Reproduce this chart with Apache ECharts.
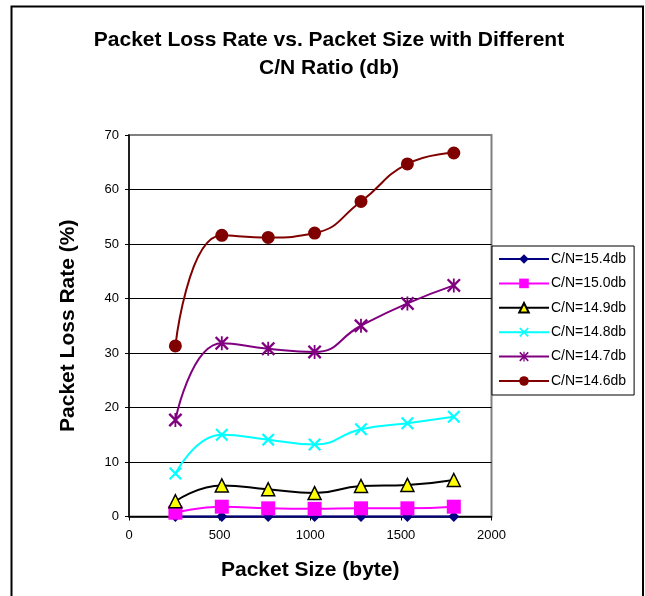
<!DOCTYPE html>
<html>
<head>
<meta charset="utf-8">
<script src="https://cdn.jsdelivr.net/npm/echarts@6/dist/echarts.min.js"></script>
<style>
  html, body { margin: 0; padding: 0; background: #fff; }
  #chart { width: 645px; height: 596px; }
</style>
</head>
<body>
<div id="chart"></div>
<script>
// Packet sizes (bytes) at which loss was measured
const packetSizes = [256, 512, 768, 1024, 1280, 1536, 1792];

// Packet loss rate (%) per C/N ratio
const cn154 = [0, 0, 0, 0, 0, 0, 0];
const cn150 = [0.7, 1.8, 1.5, 1.4, 1.5, 1.5, 1.8];
const cn149 = [2.8, 5.7, 5.0, 4.3, 5.6, 5.8, 6.7];
const cn148 = [7.9, 15.0, 14.1, 13.2, 16.0, 17.1, 18.3];
const cn147 = [17.7, 31.8, 30.8, 30.2, 35.0, 39.1, 42.4];
const cn146 = [31.3, 51.6, 51.2, 52.0, 57.8, 64.7, 66.7];

const seriesNames = ['C/N=15.4db', 'C/N=15.0db', 'C/N=14.9db', 'C/N=14.8db', 'C/N=14.7db', 'C/N=14.6db'];

const xTicks = { min: 0, max: 2000, interval: 500 };
const yTicks = { min: 0, max: 70, interval: 10 };

// Marker shapes: a cross and an asterisk (cross plus vertical bar)
const crossPath = 'path://M0,1.2 L1.2,0 L5,3.8 L8.8,0 L10,1.2 L6.2,5 L10,8.8 L8.8,10 L5,6.2 L1.2,10 L0,8.8 L3.8,5 Z';
const starPath = 'path://M0,1.2 L1.2,0 L5,3.8 L8.8,0 L10,1.2 L6.2,5 L10,8.8 L8.8,10 L5,6.2 L1.2,10 L0,8.8 L3.8,5 Z M4.35,0 L5.65,0 L5.65,10 L4.35,10 Z';

const FONT = '"Liberation Sans", Arial, sans-serif';

function pairs(vals) {
  return packetSizes.map((x, i) => [x, vals[i]]);
}

function lineSeries(name, vals, color, symbol, size, extraItem) {
  return {
    name: name,
    type: 'line',
    data: pairs(vals),
    smooth: 0.5,
    symbol: symbol,
    symbolSize: size,
    lineStyle: { color: color, width: 2 },
    itemStyle: Object.assign({ color: color }, extraItem || {}),
    emphasis: { disabled: true },
    clip: false
  };
}

const plainNumber = v => String(v);

const chart = echarts.init(document.getElementById('chart'), null, { renderer: 'canvas' });

chart.setOption({
  animation: false,
  backgroundColor: '#ffffff',
  textStyle: { fontFamily: FONT },
  title: {
    text: 'Packet Loss Rate vs. Packet Size with Different\nC/N Ratio (db)',
    left: 324,
    top: 21,
    textAlign: 'center',
    textStyle: {
      fontFamily: FONT,
      fontSize: 21,
      fontWeight: 'bold',
      color: '#000',
      lineHeight: 28
    }
  },
  graphic: [
    {
      type: 'rect',
      shape: { x: 11.5, y: 6.5, width: 631.5, height: 600 },
      style: { fill: 'none', stroke: '#000', lineWidth: 2 },
      silent: true,
      z: 100
    }
  ],
  grid: {
    left: 129,
    right: 153.5,
    top: 135,
    bottom: 79.5,
    show: true,
    borderColor: '#808080',
    borderWidth: 2,
    backgroundColor: 'transparent'
  },
  legend: {
    orient: 'vertical',
    left: 492,
    top: 246,
    padding: [6, 8, 7, 6],
    itemWidth: 50,
    itemHeight: 12,
    itemGap: 10.4,
    borderColor: '#000',
    borderWidth: 1,
    backgroundColor: '#fff',
    textStyle: { fontFamily: FONT, fontSize: 14, color: '#000', padding: [0, 0, 0, -3] },
    data: seriesNames
  },
  xAxis: {
    type: 'value',
    min: xTicks.min,
    max: xTicks.max,
    interval: xTicks.interval,
    name: 'Packet Size (byte)',
    nameLocation: 'middle',
    nameGap: 43,
    nameTextStyle: { fontFamily: FONT, fontSize: 21, fontWeight: 'bold', color: '#000' },
    axisLine: { show: true, onZero: false, lineStyle: { color: '#000', width: 1.5 } },
    axisTick: { show: true, inside: false, length: 4, lineStyle: { color: '#000' } },
    axisLabel: { fontFamily: FONT, fontSize: 13, color: '#000', margin: 12, formatter: plainNumber },
    splitLine: { show: false }
  },
  yAxis: {
    type: 'value',
    min: yTicks.min,
    max: yTicks.max,
    interval: yTicks.interval,
    name: 'Packet Loss Rate (%)',
    nameLocation: 'middle',
    nameRotate: 90,
    nameGap: 50,
    nameTextStyle: { fontFamily: FONT, fontSize: 21, fontWeight: 'bold', color: '#000' },
    axisLine: { show: true, lineStyle: { color: '#000', width: 1.5 } },
    axisTick: { show: true, inside: false, length: 4, lineStyle: { color: '#000' } },
    axisLabel: { fontFamily: FONT, fontSize: 13, color: '#000', margin: 10, formatter: plainNumber },
    splitLine: {
      show: true,
      lineStyle: {
        color: ['#000', '#000', '#000', '#000', '#000', '#000', '#000', '#808080'],
        width: 1
      }
    }
  },
  series: [
    lineSeries(seriesNames[0], cn154, '#000080', 'diamond', 11),
    lineSeries(seriesNames[1], cn150, '#FF00FF', 'rect', 14),
    lineSeries(seriesNames[2], cn149, '#000000', 'triangle', 13,
      { color: '#FFFF00', borderColor: '#000', borderWidth: 1.5 }),
    lineSeries(seriesNames[3], cn148, '#00FFFF', crossPath, 13),
    lineSeries(seriesNames[4], cn147, '#800080', starPath, 14),
    lineSeries(seriesNames[5], cn146, '#800000', 'circle', 13)
  ]
});
</script>
</body>
</html>
